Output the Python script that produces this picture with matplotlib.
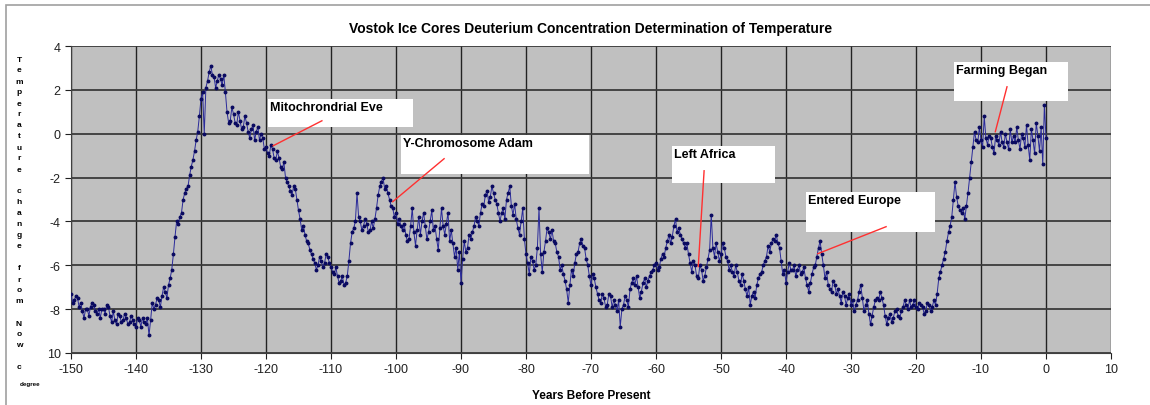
import numpy as np
import matplotlib
matplotlib.use('Agg')
import matplotlib.pyplot as plt
from matplotlib.patches import Rectangle

plt.rcParams['font.family'] = ['Liberation Sans', 'DejaVu Sans']
plt.rcParams['axes.unicode_minus'] = False

# temperature change (deg C) every 500 years
years = np.arange(-150, 0.5, 0.5)
temp = [
    -7.3, -7.6, -7.5, -7.7, -8.4, -8.0, -7.9, -7.8, -8.2, -8.4,
    -8.0, -7.8, -8.3, -8.1, -8.7, -8.3, -8.5, -8.4, -8.6, -8.5,
    -8.8, -8.5, -8.4, -8.7, -9.2, -7.7, -7.8, -7.6, -7.4, -7.2,
    -6.9, -6.2, -4.7, -4.1, -3.6, -2.7, -2.4, -1.5, -0.8, 0.1,
    1.6, 0.0, 2.4, 3.1, 2.6, 2.4, 2.5, 2.7, 1.0, 0.6,
    0.9, 0.4, 0.6, 0.3, 0.5, -0.2, 0.4, 0.1, -0.3, -0.2,
    -0.6, -1.0, -0.7, -1.2, -1.1, -1.6, -2.0, -2.4, -2.8, -2.5,
    -3.5, -4.4, -4.6, -5.0, -5.5, -5.9, -6.0, -5.8, -5.9, -5.6,
    -6.1, -6.4, -6.5, -6.7, -6.9, -6.5, -5.0, -4.3, -2.7, -4.0,
    -4.2, -4.1, -4.4, -4.3, -3.4, -2.4, -2.0, -2.4, -3.0, -3.4,
    -3.6, -3.9, -4.4, -4.6, -4.8, -3.4, -5.1, -3.8, -4.0, -4.2,
    -4.5, -3.5, -4.2, -5.3, -3.4, -4.6, -3.6, -4.4, -5.6, -6.2,
    -6.8, -4.9, -5.2, -4.8, -4.2, -4.0, -3.6, -3.3, -2.6, -2.9,
    -2.7, -3.2, -4.0, -3.4, -3.0, -2.4, -3.7, -3.9, -4.6, -3.4,
    -5.5, -6.4, -5.8, -6.0, -3.4, -6.3, -4.9, -4.5, -4.4, -5.0,
    -5.6, -6.0, -6.7, -7.7, -6.2, -5.9, -5.4, -4.8, -5.2, -6.0,
    -6.9, -6.6, -7.3, -7.7, -7.5, -7.8, -7.4, -7.6, -8.1, -8.8,
    -7.8, -7.6, -7.1, -6.6, -6.5, -7.5, -6.8, -7.0, -6.5, -6.2,
    -5.9, -6.1, -5.5, -5.2, -4.6, -4.7, -3.9, -4.3, -4.8, -5.2,
    -5.5, -6.3, -6.0, -6.6, -6.2, -6.5, -5.7, -3.7, -5.6, -5.4,
    -5.5, -5.2, -5.8, -6.0, -6.5, -6.3, -6.9, -6.7, -7.4, -7.8,
    -7.2, -6.9, -6.4, -6.0, -5.6, -5.4, -4.8, -4.6, -5.2, -6.4,
    -6.8, -5.9, -6.2, -6.5, -6.0, -6.3, -6.6, -7.2, -6.4, -6.0,
    -5.2, -5.5, -6.6, -6.9, -7.2, -6.9, -7.1, -7.7, -7.4, -7.5,
    -7.8, -8.1, -7.6, -6.9, -8.1, -7.6, -8.7, -7.9, -7.5, -7.2,
    -7.8, -8.7, -8.2, -8.4, -8.0, -8.4, -7.9, -7.8, -7.6, -7.8,
    -7.9, -7.7, -7.9, -8.1, -7.8, -7.9, -7.8, -6.6, -6.0, -5.4,
    -4.5, -3.8, -2.2, -3.3, -3.6, -3.9, -2.7, -1.3, 0.1, -0.4,
    -0.3, 0.8, -0.5, -0.2, -0.9, -0.3, 0.1, -0.6, -0.4, 0.2,
    -0.1, 0.3, -0.7, -0.2, 0.4, -1.2, -0.3, 0.5, -0.8, -1.4,
    -0.2,
]

# samples that fall between the ones above (-149.75 ... -0.25)
years_mid = np.arange(-149.75, 0, 0.5)
temp_mid = [
    -7.7, -7.4, -7.9, -8.1, -8.0, -8.3, -7.7, -8.1, -8.0, -8.0,
    -8.2, -7.9, -8.6, -8.5, -8.2, -8.6, -8.2, -8.7, -8.3, -8.7,
    -8.4, -8.8, -8.6, -8.4, -8.5, -8.0, -7.5, -7.9, -7.0, -7.5,
    -6.6, -5.5, -4.0, -3.8, -3.0, -2.5, -1.9, -1.2, -0.3, 0.8,
    1.9, 2.1, 2.8, 2.7, 2.1, 2.7, 2.2, 1.9, 0.5, 1.2,
    0.5, 1.0, 0.2, 0.8, 0.1, 0.2, -0.3, 0.3, 0.0, -0.7,
    -0.9, -0.5, -1.1, -0.8, -1.5, -1.3, -2.2, -2.6, -2.4, -3.0,
    -3.9, -4.2, -4.9, -5.3, -5.7, -6.2, -5.6, -6.1, -5.5, -5.9,
    -6.3, -6.1, -6.8, -6.5, -6.8, -5.8, -4.5, -4.0, -3.8, -4.4,
    -3.9, -4.5, -4.0, -3.9, -2.8, -2.2, -2.5, -2.7, -3.3, -3.8,
    -4.1, -4.2, -4.1, -4.9, -4.2, -4.5, -4.4, -4.6, -3.6, -4.8,
    -4.0, -4.4, -4.8, -4.3, -4.2, -4.1, -4.9, -5.0, -5.2, -5.4,
    -5.7, -5.4, -4.6, -4.5, -3.8, -4.2, -3.2, -2.8, -3.1, -2.4,
    -3.0, -3.6, -3.6, -3.9, -2.7, -3.3, -3.2, -4.3, -4.0, -4.8,
    -5.9, -5.6, -6.2, -5.2, -5.5, -5.4, -4.3, -4.8, -4.9, -5.4,
    -6.2, -6.4, -7.1, -6.9, -6.5, -5.5, -5.0, -5.1, -5.7, -6.5,
    -6.4, -7.0, -7.6, -7.3, -7.9, -7.3, -7.9, -7.8, -7.6, -8.0,
    -7.4, -7.9, -6.8, -6.9, -7.0, -7.2, -6.6, -6.7, -6.3, -6.0,
    -6.2, -5.7, -5.6, -4.9, -5.0, -4.2, -4.5, -4.6, -5.0, -5.0,
    -5.9, -5.8, -6.5, -6.0, -6.7, -6.1, -5.3, -5.2, -5.0, -5.8,
    -5.0, -5.6, -6.2, -6.3, -6.0, -6.7, -6.4, -7.1, -7.0, -7.4,
    -7.5, -6.6, -6.3, -5.8, -5.1, -5.0, -4.9, -5.0, -5.8, -6.2,
    -6.3, -6.2, -6.0, -6.2, -6.4, -6.1, -6.9, -6.8, -6.1, -5.6,
    -4.9, -6.0, -6.3, -7.1, -6.7, -7.3, -7.4, -7.2, -7.8, -7.3,
    -7.6, -7.8, -7.2, -7.5, -7.8, -8.2, -8.3, -7.6, -7.6, -7.5,
    -8.3, -8.4, -8.6, -8.1, -8.3, -8.1, -7.6, -8.0, -7.9, -7.6,
    -8.0, -7.8, -8.2, -7.7, -8.1, -7.6, -7.3, -6.3, -5.7, -4.9,
    -4.2, -3.0, -2.9, -3.5, -3.4, -3.3, -2.0, -0.6, -0.3, 0.3,
    -0.6, -0.2, -0.1, -0.6, -0.1, -0.5, -0.4, 0.0, -0.7, -0.4,
    -0.4, -0.3, 0.0, -0.6, -0.5, 0.2, -0.9, -0.1, 0.3, 1.3,
]

x_ticks = list(range(-150, 11, 10))
y_ticks = [4, 2, 0, -2, -4, -6, -8, -10]
y_ticklabels = ['4', '2', '0', '-2', '-4', '-6', '-8', '10']

# (label, box x0, x1, y_top, y_bottom, pointer from, pointer to)
notes = [
    ('Mitochrondrial Eve', -119.7, -97.4, 1.6, 0.32, (-111.4, 0.59), (-118.9, -0.55)),
    ('Y-Chromosome Adam', -99.2, -70.3, -0.05, -1.82, (-92.6, -1.14), (-100.5, -3.1)),
    ('Left Africa', -57.5, -41.7, -0.55, -2.23, (-52.6, -1.69), (-53.5, -6.06)),
    ('Entered Europe', -36.9, -17.1, -2.64, -4.47, (-24.6, -4.24), (-35.1, -5.47)),
    ('Farming Began', -14.2, 3.4, 3.28, 1.5, (-6.0, 2.14), (-7.8, 0.09)),
]

all_x = np.concatenate([years, years_mid])
all_y = np.concatenate([temp, temp_mid])
order = np.argsort(all_x)
all_x, all_y = all_x[order], all_y[order]

fig = plt.figure(figsize=(11.5, 4.06), dpi=100)
fig.patches.append(Rectangle((6 / 1150, -0.1), 1.2, 1 - 6 / 406 + 0.1,
                             transform=fig.transFigure, fill=False,
                             edgecolor='#a0a0a0', lw=1.2))
ax = fig.add_axes([71 / 1150, 1 - 354 / 406, 1040 / 1150, 307 / 406])
ax.set_facecolor('#c0c0c0')

ax.plot(all_x, all_y, color='#2a2a9a', lw=0.7, marker='o', ms=1.8,
        mec='#0a0a60', mfc='#0a0a60', zorder=3)

ax.set_xlim(-150, 10)
ax.set_ylim(-10, 4)
ax.set_xticks(x_ticks)
ax.set_xticklabels([str(t) for t in x_ticks], fontsize=9)
ax.set_yticks(y_ticks)
ax.set_yticklabels(y_ticklabels, fontsize=9)
ax.tick_params(direction='out', length=4, width=0.8, colors='#202020')
for t in x_ticks:
    ax.axvline(t, color='#222222', lw=1.0, zorder=1)
for t in y_ticks:
    ax.axhline(t, color='#3a3a3a', lw=1.3, zorder=1)
for side in ['top', 'right']:
    ax.spines[side].set_visible(False)
ax.spines['left'].set_color('#404040')
ax.spines['bottom'].set_color('#404040')

for label, x0, x1, yt, yb, p0, p1 in notes:
    ax.add_patch(Rectangle((x0, yb), x1 - x0, yt - yb, facecolor='white',
                           edgecolor='none', zorder=4))
    ax.text(x0 + 0.3, yt - 0.12, label, fontsize=9, fontweight='bold',
            ha='left', va='top', zorder=5)
    ax.plot([p0[0], p1[0]], [p0[1], p1[1]], color='#ff3030', lw=1.0, zorder=5)

fig.text(591 / 1150, 1 - 29 / 406,
         'Vostok Ice Cores Deuterium Concentration Determination of Temperature',
         ha='center', va='center', fontsize=10, fontweight='bold')
fig.text(591 / 1150, 1 - 396 / 406, 'Years Before Present', ha='center',
         va='center', fontsize=8.5, fontweight='bold')

ylabel = 'Temperature change from Now c'
for i, ch in enumerate(ylabel):
    if ch != ' ':
        fig.text(19 / 1150, 1 - (60 + 11 * i) / 406, ch, ha='center',
                 va='center', fontsize=6, fontweight='heavy')
fig.text(30 / 1150, 1 - 385 / 406, 'degree', ha='center', va='center',
         fontsize=4.5, fontweight='bold')

fig.savefig('out.png', dpi=100, facecolor='white')
